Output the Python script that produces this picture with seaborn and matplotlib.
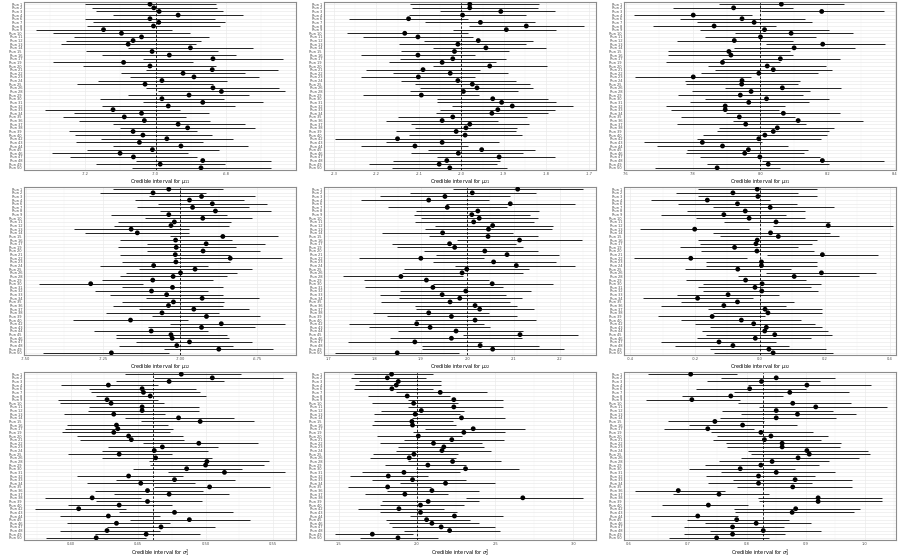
import numpy as np
import pandas as pd
import seaborn as sns
import matplotlib.pyplot as plt
from matplotlib.ticker import MultipleLocator, AutoMinorLocator, FormatStrFormatter

# runs that made it into the summary (a few were dropped)
runs = [r for r in range(1, 51) if r not in (5, 18, 27, 41)]
run_labels = [f"Run {r}" for r in runs]

mu11_lo = [-7.201, -7.182, -7.168, -7.120, -7.201, -7.179, -7.194, -7.340, -7.291, -7.232, -7.256, -7.269, -7.078, -7.198, -7.151, -7.035, -7.291, -7.206, -7.026, -7.099, -7.073, -7.164, -7.223, -7.026, -6.992, -7.078, -7.158, -7.035, -7.152, -7.314, -7.232, -7.263, -7.218, -7.122, -7.100, -7.246, -7.229, -7.154, -7.227, -7.120, -7.194, -7.294, -7.242, -7.056, -7.170, -7.066]
mu11_est = [-7.016, -7.005, -6.990, -6.936, -7.016, -6.991, -7.006, -7.148, -7.097, -7.040, -7.064, -7.078, -6.901, -7.010, -6.961, -6.837, -7.091, -7.016, -6.839, -6.922, -6.891, -6.982, -7.030, -6.837, -6.813, -6.905, -6.982, -6.866, -6.964, -7.121, -7.040, -7.089, -7.032, -6.936, -6.909, -7.064, -7.036, -6.968, -7.046, -6.928, -7.009, -7.101, -7.063, -6.866, -6.987, -6.871]
mu11_hi = [-6.828, -6.825, -6.809, -6.751, -6.831, -6.803, -6.817, -6.954, -6.902, -6.848, -6.870, -6.885, -6.724, -6.823, -6.772, -6.637, -6.893, -6.827, -6.651, -6.746, -6.707, -6.798, -6.838, -6.650, -6.632, -6.734, -6.805, -6.696, -6.774, -6.930, -6.848, -6.915, -6.845, -6.747, -6.717, -6.881, -6.840, -6.781, -6.864, -6.736, -6.819, -6.909, -6.883, -6.673, -6.804, -6.673]

mu21_lo = [-2.121, -2.117, -2.049, -2.124, -2.265, -2.085, -1.982, -2.020, -2.269, -2.231, -2.088, -2.146, -2.067, -2.143, -2.236, -2.145, -2.171, -2.067, -2.225, -2.161, -2.235, -2.141, -2.110, -2.096, -2.121, -2.231, -2.057, -2.056, -2.021, -2.049, -2.060, -2.149, -2.178, -2.118, -2.110, -2.153, -2.123, -2.298, -2.178, -2.235, -2.078, -2.119, -2.056, -2.161, -2.217, -2.162]
mu21_est = [-1.980, -1.980, -1.907, -1.997, -2.124, -1.955, -1.847, -1.894, -2.133, -2.102, -1.960, -2.008, -1.942, -2.016, -2.102, -2.020, -2.045, -1.933, -2.090, -2.026, -2.101, -2.008, -1.974, -1.963, -1.995, -2.094, -1.926, -1.905, -1.880, -1.914, -1.928, -2.020, -2.045, -1.980, -1.989, -2.012, -1.991, -2.150, -2.045, -2.109, -1.952, -2.007, -1.911, -2.034, -2.052, -2.027]
mu21_hi = [-1.816, -1.820, -1.780, -1.847, -1.983, -1.826, -1.712, -1.778, -1.984, -1.973, -1.832, -1.847, -1.800, -1.888, -1.967, -1.894, -1.918, -1.799, -1.955, -1.890, -1.967, -1.872, -1.838, -1.832, -1.867, -1.959, -1.796, -1.778, -1.738, -1.779, -1.796, -1.846, -1.913, -1.841, -1.868, -1.871, -1.858, -2.004, -1.912, -1.983, -1.826, -1.854, -1.780, -1.908, -1.915, -1.893]

mu31_lo = [7.879, 7.742, 8.003, 7.626, 7.762, 7.812, 7.681, 7.820, 7.924, 7.837, 7.752, 8.018, 7.921, 7.726, 7.726, 7.886, 7.720, 7.846, 7.866, 7.823, 7.628, 7.775, 7.778, 7.894, 7.798, 7.755, 7.835, 7.790, 7.721, 7.736, 7.899, 7.766, 7.918, 7.752, 7.879, 7.871, 7.830, 7.812, 7.653, 7.693, 7.782, 7.778, 7.820, 8.004, 7.841, 7.686]
mu31_est = [8.063, 7.921, 8.183, 7.801, 7.946, 7.982, 7.863, 8.013, 8.092, 8.001, 7.923, 8.186, 8.101, 7.907, 7.913, 8.060, 7.888, 8.021, 8.039, 7.996, 7.801, 7.946, 7.945, 8.066, 7.973, 7.941, 8.019, 7.966, 7.896, 7.896, 8.069, 7.938, 8.113, 7.957, 8.051, 8.039, 8.014, 7.996, 7.828, 7.888, 7.965, 7.954, 7.999, 8.185, 8.024, 7.872]
mu31_hi = [8.248, 8.099, 8.367, 7.976, 8.132, 8.155, 8.046, 8.206, 8.275, 8.165, 8.097, 8.370, 8.281, 8.089, 8.097, 8.236, 8.059, 8.196, 8.214, 8.172, 7.972, 8.117, 8.112, 8.239, 8.147, 8.127, 8.204, 8.144, 8.075, 8.057, 8.236, 8.105, 8.305, 8.137, 8.221, 8.204, 8.199, 8.181, 8.006, 8.083, 8.142, 8.130, 8.178, 8.367, 8.204, 8.059]

mu12_lo = [-7.217, -7.259, -7.101, -7.146, -7.072, -7.140, -7.066, -7.224, -7.114, -7.203, -7.214, -7.343, -7.309, -7.034, -7.196, -7.108, -7.203, -7.108, -7.196, -7.021, -7.190, -7.261, -7.135, -7.177, -7.196, -7.254, -7.458, -7.187, -7.275, -7.229, -7.112, -7.188, -7.218, -7.135, -7.241, -7.090, -7.347, -7.034, -7.103, -7.279, -7.209, -7.209, -7.142, -7.199, -7.053, -7.444]
mu12_est = [-7.037, -7.088, -6.931, -6.970, -6.896, -6.960, -6.886, -7.037, -6.927, -7.019, -7.030, -7.159, -7.139, -6.862, -7.015, -6.916, -7.013, -6.926, -7.016, -6.838, -7.014, -7.086, -6.952, -6.999, -7.023, -7.089, -7.290, -7.025, -7.093, -7.044, -6.929, -7.022, -7.038, -6.956, -7.059, -6.915, -7.161, -6.867, -6.931, -7.094, -7.030, -7.026, -6.970, -7.011, -6.875, -7.223]
mu12_hi = [-6.860, -6.917, -6.759, -6.794, -6.719, -6.778, -6.706, -6.850, -6.769, -6.836, -6.841, -6.970, -6.970, -6.683, -6.831, -6.725, -6.820, -6.743, -6.838, -6.670, -6.839, -6.910, -6.767, -6.817, -6.850, -6.894, -7.122, -6.862, -6.910, -6.860, -6.746, -6.857, -6.861, -6.776, -6.875, -6.741, -6.974, -6.660, -6.757, -6.910, -6.848, -6.843, -6.769, -6.829, -6.701, -7.037]

mu22_lo = [1.969, 1.876, 1.811, 1.770, 1.955, 1.829, 1.889, 1.885, 1.901, 1.887, 1.930, 1.908, 1.817, 1.917, 1.979, 1.837, 1.849, 1.906, 1.932, 1.766, 1.926, 1.973, 1.864, 1.860, 1.732, 1.777, 1.926, 1.779, 1.856, 1.811, 1.852, 1.813, 1.887, 1.889, 1.797, 1.826, 1.887, 1.745, 1.788, 1.851, 1.991, 1.834, 1.743, 1.902, 1.902, 1.714]
mu22_est = [2.109, 2.011, 1.952, 1.917, 2.093, 1.957, 2.023, 2.010, 2.026, 2.014, 2.055, 2.046, 1.947, 2.045, 2.113, 1.962, 1.973, 2.038, 2.086, 1.900, 2.057, 2.106, 1.999, 1.989, 1.857, 1.912, 2.054, 1.926, 1.997, 1.946, 1.984, 1.963, 2.017, 2.027, 1.917, 1.966, 2.017, 1.891, 1.920, 1.976, 2.114, 1.966, 1.887, 2.028, 2.055, 1.849]
mu22_hi = [2.251, 2.149, 2.093, 2.047, 2.233, 2.085, 2.156, 2.136, 2.152, 2.144, 2.185, 2.182, 2.098, 2.153, 2.248, 2.106, 2.120, 2.152, 2.199, 2.036, 2.192, 2.233, 2.134, 2.121, 1.991, 2.048, 2.185, 2.077, 2.138, 2.084, 2.118, 2.093, 2.107, 2.145, 2.048, 2.108, 2.149, 2.037, 2.050, 2.120, 2.239, 2.118, 2.032, 2.154, 2.210, 1.983]

mu32_lo = [-0.191, -0.260, -0.190, -0.335, -0.252, -0.145, -0.225, -0.304, -0.196, -0.111, 0.042, -0.371, -0.145, -0.122, -0.191, -0.186, -0.245, -0.181, 0.022, -0.387, -0.166, -0.166, -0.232, 0.020, -0.066, -0.227, -0.176, -0.191, -0.174, -0.256, -0.361, -0.242, -0.304, -0.160, -0.145, -0.314, -0.242, -0.201, -0.155, -0.177, -0.166, -0.193, -0.306, -0.261, -0.155, -0.140]
mu32_est = [-0.008, -0.083, -0.006, -0.162, -0.069, 0.032, -0.045, -0.111, -0.033, 0.050, 0.211, -0.201, 0.033, 0.057, -0.008, -0.012, -0.078, -0.009, 0.193, -0.213, 0.005, 0.005, -0.068, 0.190, 0.106, -0.044, 0.007, -0.015, 0.006, -0.098, -0.192, -0.069, -0.111, 0.016, 0.025, -0.147, -0.057, -0.019, 0.020, 0.015, 0.046, -0.014, -0.126, -0.083, 0.028, 0.041]
mu32_hi = [0.176, 0.119, 0.176, 0.032, 0.114, 0.230, 0.139, 0.082, 0.139, 0.215, 0.410, -0.034, 0.215, 0.243, 0.176, 0.161, 0.117, 0.167, 0.365, -0.039, 0.176, 0.176, 0.097, 0.359, 0.305, 0.141, 0.189, 0.158, 0.180, 0.059, -0.022, 0.105, 0.081, 0.192, 0.192, 0.017, 0.127, 0.170, 0.192, 0.210, 0.222, 0.159, 0.050, 0.091, 0.203, 0.225]

sig1_lo = [0.440, 0.462, 0.434, 0.393, 0.414, 0.415, 0.419, 0.391, 0.392, 0.414, 0.413, 0.395, 0.440, 0.452, 0.397, 0.396, 0.394, 0.405, 0.407, 0.454, 0.428, 0.423, 0.398, 0.423, 0.458, 0.459, 0.446, 0.472, 0.405, 0.434, 0.412, 0.462, 0.418, 0.432, 0.381, 0.419, 0.398, 0.374, 0.436, 0.392, 0.444, 0.397, 0.427, 0.392, 0.418, 0.382]
sig1_est = [0.482, 0.505, 0.473, 0.428, 0.453, 0.454, 0.459, 0.427, 0.430, 0.453, 0.453, 0.432, 0.480, 0.496, 0.434, 0.435, 0.432, 0.443, 0.445, 0.495, 0.468, 0.462, 0.436, 0.463, 0.501, 0.500, 0.486, 0.514, 0.443, 0.477, 0.452, 0.503, 0.457, 0.473, 0.416, 0.457, 0.436, 0.406, 0.477, 0.428, 0.488, 0.434, 0.467, 0.427, 0.456, 0.419]
sig1_hi = [0.526, 0.557, 0.514, 0.465, 0.493, 0.496, 0.500, 0.465, 0.469, 0.495, 0.495, 0.470, 0.521, 0.536, 0.472, 0.476, 0.474, 0.483, 0.484, 0.539, 0.509, 0.502, 0.475, 0.505, 0.547, 0.543, 0.527, 0.559, 0.483, 0.522, 0.492, 0.548, 0.498, 0.517, 0.452, 0.497, 0.475, 0.441, 0.520, 0.466, 0.533, 0.474, 0.507, 0.466, 0.496, 0.456]

sig2_lo = [1.596, 1.581, 1.630, 1.602, 1.596, 1.868, 1.687, 1.945, 1.715, 1.943, 1.772, 1.723, 1.970, 1.723, 1.713, 2.049, 1.974, 1.745, 1.915, 1.762, 1.879, 1.868, 1.719, 1.702, 1.943, 1.794, 1.991, 1.651, 1.574, 1.715, 1.889, 1.560, 1.811, 1.670, 2.315, 1.779, 1.762, 1.623, 1.762, 1.953, 1.804, 1.821, 1.843, 1.915, 1.474, 1.638]
sig2_est = [1.838, 1.811, 1.881, 1.868, 1.840, 2.149, 1.938, 2.236, 1.979, 2.236, 2.028, 1.989, 2.285, 1.968, 1.972, 2.360, 2.300, 2.009, 2.223, 2.106, 2.172, 2.160, 1.981, 1.951, 2.228, 2.070, 2.311, 1.917, 1.817, 1.972, 2.183, 1.813, 2.096, 1.923, 2.677, 2.072, 2.023, 1.885, 2.023, 2.240, 2.062, 2.096, 2.155, 2.209, 1.715, 1.879]
sig2_hi = [2.102, 2.060, 2.155, 2.151, 2.102, 2.449, 2.209, 2.549, 2.262, 2.553, 2.302, 2.277, 2.564, 2.230, 2.247, 2.694, 2.564, 2.289, 2.555, 2.417, 2.432, 2.475, 2.262, 2.251, 2.538, 2.315, 2.651, 2.277, 2.070, 2.311, 2.500, 2.087, 2.396, 2.198, 3.064, 2.394, 2.300, 2.172, 2.255, 2.553, 2.340, 2.396, 2.500, 2.532, 1.974, 2.134]

sig3_lo = [0.632, 0.756, 0.732, 0.802, 0.714, 0.779, 0.690, 0.630, 0.785, 0.821, 0.758, 0.790, 0.755, 0.667, 0.703, 0.659, 0.739, 0.750, 0.742, 0.765, 0.767, 0.802, 0.808, 0.790, 0.753, 0.730, 0.702, 0.756, 0.731, 0.776, 0.735, 0.783, 0.610, 0.675, 0.819, 0.820, 0.656, 0.778, 0.780, 0.638, 0.698, 0.729, 0.694, 0.738, 0.693, 0.668]
sig3_est = [0.705, 0.850, 0.825, 0.902, 0.805, 0.873, 0.773, 0.707, 0.878, 0.917, 0.850, 0.886, 0.850, 0.746, 0.793, 0.734, 0.824, 0.841, 0.830, 0.860, 0.860, 0.902, 0.906, 0.887, 0.843, 0.824, 0.789, 0.850, 0.820, 0.882, 0.820, 0.878, 0.684, 0.753, 0.921, 0.921, 0.735, 0.883, 0.877, 0.717, 0.783, 0.816, 0.776, 0.828, 0.776, 0.749]
sig3_hi = [0.783, 0.950, 0.924, 1.010, 0.900, 0.974, 0.861, 0.789, 0.977, 1.037, 0.947, 0.985, 0.951, 0.829, 0.886, 0.813, 0.913, 0.937, 0.926, 0.960, 0.958, 1.005, 1.009, 0.991, 0.940, 0.923, 0.882, 0.949, 0.916, 0.978, 0.910, 0.979, 0.763, 0.837, 1.030, 1.029, 0.802, 0.992, 0.982, 0.785, 0.871, 0.909, 0.864, 0.926, 0.865, 0.837]

# true parameter values (dashed reference lines)
true_vals = [-7.0, -2.0, 8.0, -7.0, 2.0, 0.0, 0.461, 2.0, 0.828]
x_labels = [r"Credible interval for $\mu_{11}$", r"Credible interval for $\mu_{21}$",
            r"Credible interval for $\mu_{31}$", r"Credible interval for $\mu_{12}$",
            r"Credible interval for $\mu_{22}$", r"Credible interval for $\mu_{32}$",
            r"Credible interval for $\sigma_1^2$", r"Credible interval for $\sigma_2^2$",
            r"Credible interval for $\sigma_3^2$"]
# axis extents as shown in the original panels
x_limits = [(-7.374, -6.601), (-2.323, -1.683), (7.595, 8.404),
            (-7.506, -6.625), (1.691, 2.278), (-0.419, 0.420),
            (0.3655, 0.567), (1.406, 3.145), (0.592, 1.053)]
tick_steps = [0.2, 0.1, 0.2, 0.25, 0.1, 0.2, 0.05, 0.5, 0.1]
tick_fmts = ["%.1f", "%.1f", "%.1f", "%.2f", "%.1f", "%.1f", "%.2f", "%.1f", "%.1f"]

series = [
    (mu11_lo, mu11_est, mu11_hi), (mu21_lo, mu21_est, mu21_hi), (mu31_lo, mu31_est, mu31_hi),
    (mu12_lo, mu12_est, mu12_hi), (mu22_lo, mu22_est, mu22_hi), (mu32_lo, mu32_est, mu32_hi),
    (sig1_lo, sig1_est, sig1_hi), (sig2_lo, sig2_est, sig2_hi), (sig3_lo, sig3_est, sig3_hi),
]

sns.set_theme(style="white")
plt.rcParams["axes.unicode_minus"] = False
plt.rcParams["font.family"] = ["DejaVu Sans"]

W, H = 899, 557
fig = plt.figure(figsize=(W / 100, H / 100), dpi=100)
lefts = [24, 324, 624]
tops = [2, 187, 372]
pw, ph = 272, 168

for i, (lo, est, hi) in enumerate(series):
    r, c = divmod(i, 3)
    ax = fig.add_axes([lefts[c] / W, 1 - (tops[r] + ph) / H, pw / W, ph / H])
    df = pd.DataFrame({"run": run_labels, "lower": lo, "estimate": est, "upper": hi})
    df["pos"] = np.arange(len(df))

    ax.hlines(df["pos"], df["lower"], df["upper"], color="black", lw=0.6, zorder=2)
    sns.scatterplot(data=df, x="estimate", y="pos", color="black", s=12,
                    edgecolor="none", ax=ax, zorder=3, legend=False)
    ax.axvline(true_vals[i], color="black", ls=(0, (3, 2)), lw=0.6, zorder=2.5)

    ax.set_xlim(*x_limits[i])
    ax.set_ylim(len(df) - 0.4, -0.6)

    ax.set_yticks(df["pos"])
    ax.set_yticklabels(df["run"])
    ax.xaxis.set_major_locator(MultipleLocator(tick_steps[i]))
    ax.xaxis.set_minor_locator(AutoMinorLocator(2))
    ax.xaxis.set_major_formatter(FormatStrFormatter(tick_fmts[i]))

    ax.grid(True, which="major", color="#ebebeb", lw=0.5, zorder=0)
    ax.grid(True, which="minor", axis="x", color="#f3f3f3", lw=0.35, zorder=0)
    ax.set_axisbelow(True)
    ax.tick_params(axis="both", which="major", labelsize=2.6, colors="#4d4d4d",
                   length=0.8, width=0.4, pad=0.6)
    ax.tick_params(axis="both", which="minor", length=0)
    ax.set_xlabel(x_labels[i], fontsize=3.6, labelpad=0.8, color="black")
    ax.set_ylabel("")
    for sp in ax.spines.values():
        sp.set_color("#8c8c8c")
        sp.set_linewidth(0.8)

fig.savefig("out.png", dpi=100)
